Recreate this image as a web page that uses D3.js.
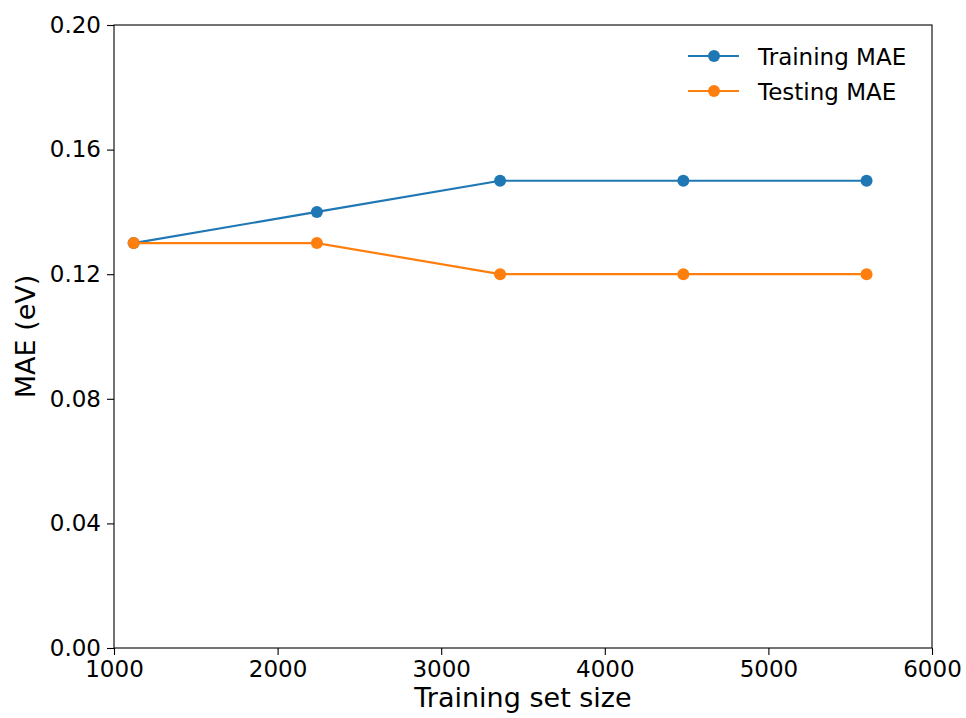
<!DOCTYPE html>
<html><head><meta charset="utf-8">
<script src="https://cdn.jsdelivr.net/npm/d3@7"></script>
<style>body{margin:0;background:#fff}svg{display:block}text{font-family:"DejaVu Sans",sans-serif;fill:#000}</style>
</head><body>
<svg id="c" width="966" height="718"></svg>
<script>
const sizes = [1120, 2240, 3360, 4480, 5600];
const trainMAE = [0.13, 0.14, 0.15, 0.15, 0.15];
const testMAE = [0.13, 0.13, 0.12, 0.12, 0.12];
const xTicks = [1000, 2000, 3000, 4000, 5000, 6000];
const yTicks = [0.00, 0.04, 0.08, 0.12, 0.16, 0.20];
const seriesNames = ["Training MAE", "Testing MAE"];
const colors = ["#1f77b4", "#ff7f0e"];

const svg = d3.select("#c");
const L = 114, R = 932, T = 25, B = 648;
const x = d3.scaleLinear().domain([1000, 6000]).range([L, R]);
const y = d3.scaleLinear().domain([0, 0.2]).range([B, T]);

const xa = svg.append("g").attr("transform", `translate(0,${B})`)
  .call(d3.axisBottom(x).tickValues(xTicks).tickFormat(d3.format("d")).tickSize(7).tickPadding(6));
const ya = svg.append("g").attr("transform", `translate(${L},0)`)
  .call(d3.axisLeft(y).tickValues(yTicks).tickFormat(d3.format(".2f")).tickSize(7).tickPadding(6));
[xa, ya].forEach(a => {
  a.selectAll("text").style("font-size", "23px").attr("fill", "#000");
  a.selectAll("line").attr("stroke", "#000").attr("stroke-width", 1.1);
  a.select(".domain").remove();
});
svg.append("rect").attr("x", L).attr("y", T).attr("width", R - L).attr("height", B - T)
  .attr("fill", "none").attr("stroke", "#000").attr("stroke-width", 1.1);

const data = [trainMAE, testMAE];
const line = d3.line().x((d, i) => x(sizes[i])).y(d => y(d));
data.forEach((s, k) => {
  svg.append("path").datum(s).attr("d", line).attr("fill", "none")
    .attr("stroke", colors[k]).attr("stroke-width", 2.2);
  svg.selectAll(null).data(s).enter().append("circle")
    .attr("cx", (d, i) => x(sizes[i])).attr("cy", d => y(d)).attr("r", 6).attr("fill", colors[k]);
});

svg.append("text").attr("x", (L + R) / 2).attr("y", 707).attr("text-anchor", "middle")
  .style("font-size", "27px").text("Training set size");
svg.append("text").attr("transform", `translate(35,${(T + B) / 2}) rotate(-90)`).attr("text-anchor", "middle")
  .style("font-size", "27px").text("MAE (eV)");

seriesNames.forEach((n, k) => {
  const ly = 56 + k * 35;
  svg.append("line").attr("x1", 688).attr("x2", 739).attr("y1", ly).attr("y2", ly)
    .attr("stroke", colors[k]).attr("stroke-width", 2.2);
  svg.append("circle").attr("cx", 714).attr("cy", ly).attr("r", 6).attr("fill", colors[k]);
  svg.append("text").attr("x", 758).attr("y", ly + 9).style("font-size", "23px").text(n);
});
</script>
</body></html>
